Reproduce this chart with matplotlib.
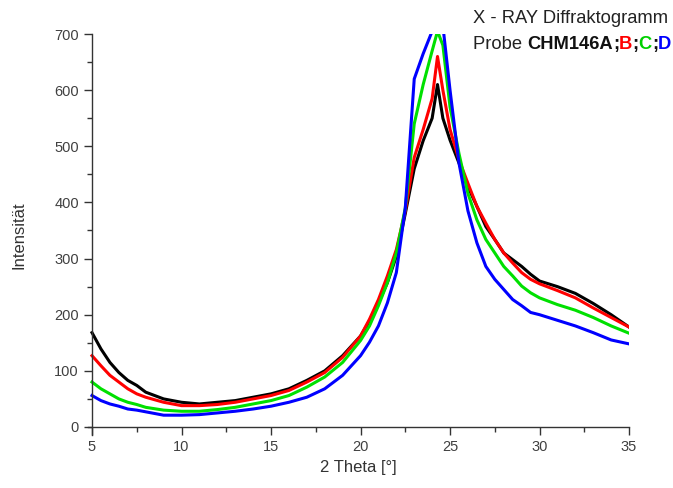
import matplotlib
matplotlib.use("Agg")
import matplotlib.pyplot as plt
from matplotlib.ticker import MultipleLocator

plt.rcParams['font.family'] = ['Liberation Sans', 'DejaVu Sans']

# 2 Theta positions (deg)
theta = [5, 5.5, 6, 6.5, 7, 7.5, 8, 9, 10, 11, 12, 13, 14, 15, 16, 17, 18, 19,
         20, 20.5, 21, 21.5, 22, 22.5, 23, 23.5, 24, 24.3, 24.6, 25, 25.5, 26,
         26.5, 27, 27.5, 28, 28.5, 29, 29.5, 30, 31, 32, 33, 34, 35]

# intensities, one list per sample
probe_a = [168, 139, 115, 97, 83, 74, 62, 50, 44, 41, 44, 47, 53, 59, 68, 83, 100, 127,
           162, 189, 221, 257, 304, 380, 460, 510, 550, 610, 550, 511, 470, 428,
           393, 357, 334, 310, 298, 286, 272, 260, 250, 238, 220, 200, 178]
probe_b = [127, 109, 92, 80, 68, 59, 53, 44, 38, 38, 40, 44, 50, 56, 65, 80, 97, 124,
           162, 192, 227, 269, 316, 385, 480, 530, 585, 660, 600, 530, 476, 434,
           393, 363, 334, 310, 292, 275, 263, 255, 243, 230, 212, 195, 178]
probe_c = [80, 68, 59, 50, 44, 40, 35, 30, 28, 28, 31, 35, 41, 47, 56, 71, 89, 115,
           154, 180, 216, 257, 310, 390, 540, 610, 670, 705, 680, 570, 487, 416,
           369, 334, 310, 286, 269, 251, 239, 230, 218, 208, 195, 180, 167]
probe_d = [56, 47, 41, 37, 32, 30, 27, 21, 21, 22, 25, 28, 32, 37, 44, 53, 68, 92,
           127, 151, 180, 221, 275, 390, 620, 665, 705, 720, 715, 600, 470, 385,
           328, 286, 263, 245, 227, 216, 204, 200, 190, 180, 168, 155, 148]

series = [(probe_a, '#000000'), (probe_b, '#ff0000'),
          (probe_c, '#00e000'), (probe_d, '#0000ff')]

fig = plt.figure(figsize=(6.73, 4.88), dpi=100)
ax = fig.add_axes([0.1314, 0.1078, 0.8033, 0.8225])

for vals, col in series:
    ax.plot(theta, vals, color=col, lw=2.2)

ax.set_xlim(4.8, 35)
ax.set_ylim(-15, 700)

axis_col = '#333333'
for side in ['top', 'right']:
    ax.spines[side].set_visible(False)
ax.spines['left'].set_position(('data', 5))
ax.spines['bottom'].set_position(('data', 0))
ax.spines['left'].set_bounds(-15, 700)
ax.spines['bottom'].set_bounds(4.8, 35)
for side in ['left', 'bottom']:
    ax.spines[side].set_color(axis_col)
    ax.spines[side].set_linewidth(1.0)

ax.xaxis.set_major_locator(MultipleLocator(5))
ax.xaxis.set_minor_locator(MultipleLocator(2.5))
ax.yaxis.set_major_locator(MultipleLocator(100))
ax.yaxis.set_minor_locator(MultipleLocator(50))
ax.tick_params(which='major', direction='out', length=6, width=1, colors=axis_col,
               labelsize=10.5, labelcolor='#404040')
ax.tick_params(which='minor', direction='out', length=3.5, width=1, colors=axis_col)

ax.set_xlabel('2 Theta [°]', fontsize=12, color='#333333', labelpad=4)
ax.set_ylabel('Intensität', fontsize=12, color='#333333', labelpad=20)

# title block, top right
fig.text(0.703, 0.963, 'X - RAY Diffraktogramm', fontsize=13.2, color='#222222',
         va='center', ha='left')

parts = [('Probe ', 'normal', '#222222'), ('CHM146A', 'bold', '#111111'),
         (';', 'bold', '#111111'), ('B', 'bold', '#ff0000'), (';', 'bold', '#111111'),
         ('C', 'bold', '#00d000'), (';', 'bold', '#111111'), ('D', 'bold', '#0000ff')]
fig.canvas.draw()
r = fig.canvas.get_renderer()
xpos = 0.703
for txt, wt, col in parts:
    t = fig.text(xpos, 0.908, txt, fontsize=13.2, fontweight=wt, color=col,
                 va='center', ha='left')
    bb = t.get_window_extent(renderer=r)
    xpos += bb.width / fig.bbox.width

fig.savefig('out.png', dpi=100)
